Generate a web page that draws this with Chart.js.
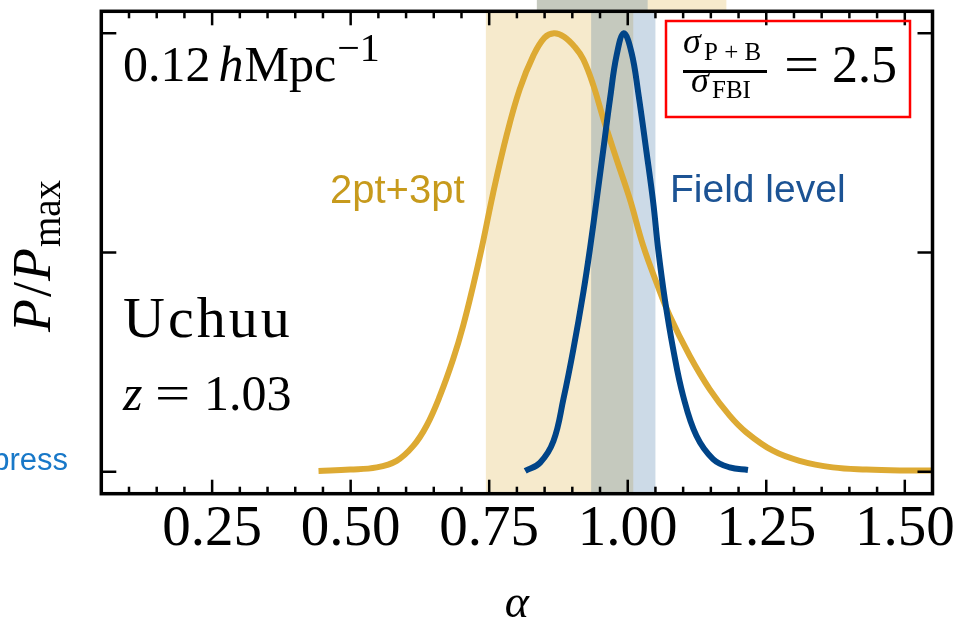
<!DOCTYPE html>
<html>
<head>
<meta charset="utf-8">
<script src="https://cdn.jsdelivr.net/npm/chart.js@4.4.1/dist/chart.umd.min.js"></script>
<style>
  html, body { margin: 0; padding: 0; background: #fff; }
  #wrap { width: 961px; height: 620px; }
</style>
</head>
<body>
<div id="wrap"><canvas id="alphaChart" width="961" height="620"></canvas></div>
<script>
// marginal posteriors of alpha, normalised to their peak
const alpha23 = [0.442, 0.499, 0.547, 0.583, 0.613, 0.637, 0.661, 0.685, 0.703, 0.721,
  0.736, 0.757, 0.782, 0.805, 0.830, 0.850, 0.867, 0.885, 0.905, 0.920, 0.938, 0.956,
  0.980, 1.004, 1.028, 1.052, 1.076, 1.112, 1.148, 1.184, 1.214, 1.262, 1.310, 1.370,
  1.431, 1.491, 1.550];
const post23 = [0.002, 0.005, 0.010, 0.025, 0.059, 0.105, 0.173, 0.257, 0.333, 0.424,
  0.507, 0.635, 0.770, 0.872, 0.950, 0.990, 1.000, 0.992, 0.968, 0.940, 0.881, 0.805,
  0.712, 0.621, 0.515, 0.431, 0.355, 0.264, 0.188, 0.128, 0.090, 0.048, 0.025, 0.010,
  0.005, 0.003, 0.003];

const alphaFBI = [0.815, 0.842, 0.866, 0.884, 0.902, 0.920, 0.932, 0.944, 0.956, 0.968,
  0.980, 0.993, 1.007, 1.019, 1.034, 1.046, 1.055, 1.067, 1.082, 1.100, 1.124, 1.154,
  1.184, 1.217];
const postFBI = [0.002, 0.021, 0.070, 0.166, 0.280, 0.410, 0.510, 0.621, 0.735, 0.850,
  0.950, 1.000, 0.955, 0.864, 0.728, 0.614, 0.507, 0.393, 0.280, 0.173, 0.082, 0.029,
  0.010, 0.004];

// 68% intervals
const band23 = [0.744, 1.010];
const bandFBI = [0.934, 1.050];
// bands of the panel above; only their lower edge shows
const upperBand23 = [0.836, 1.178];
const upperBandFBI = [0.836, 1.036];

const xTicks = [0.25, 0.50, 0.75, 1.00, 1.25, 1.50];
const yTicks = [0, 0.5, 1];
const xMinorStep = 0.05;

const GOLD = '#DDAA33';
const NAVY = '#004488';
const SERIF = "'Liberation Serif', 'Times New Roman', serif";
const SANS = "'Liberation Sans', Arial, sans-serif";

function put(ctx, s, x, y, font, color) {
  ctx.font = font;
  ctx.fillStyle = color || '#000';
  ctx.fillText(s, x, y);
  return x + ctx.measureText(s).width;
}

const bands = {
  id: 'bands',
  beforeDatasetsDraw(chart) {
    const { ctx, chartArea: a, scales: { x } } = chart;
    const fill = (r, top, bottom, color) => {
      const x0 = x.getPixelForValue(r[0]);
      const x1 = x.getPixelForValue(r[1]);
      ctx.fillStyle = color;
      ctx.fillRect(x0, top, x1 - x0, bottom - top);
    };
    ctx.save();
    fill(band23, a.top, a.bottom, 'rgba(221,170,51,0.25)');
    fill(bandFBI, a.top, a.bottom, 'rgba(0,68,136,0.2)');
    fill(upperBand23, 0, a.top, 'rgba(221,170,51,0.25)');
    fill(upperBandFBI, 0, a.top, 'rgba(0,68,136,0.2)');
    ctx.restore();
  }
};

const frame = {
  id: 'frame',
  afterDraw(chart) {
    const { ctx, chartArea: a, scales: { x, y } } = chart;
    ctx.save();
    ctx.strokeStyle = '#000';
    const seg = (x0, y0, x1, y1) => {
      ctx.beginPath(); ctx.moveTo(x0, y0); ctx.lineTo(x1, y1); ctx.stroke();
    };

    // inward ticks on all four sides
    ctx.lineWidth = 2.5;
    const xt = (v, len) => {
      const p = x.getPixelForValue(v);
      seg(p, a.bottom, p, a.bottom - len);
      seg(p, a.top, p, a.top + len);
    };
    for (let v = x.min + xMinorStep; v < x.max - 1e-6; v += xMinorStep) {
      const r = Math.round(v * 100) / 100;
      if (!xTicks.includes(r)) xt(r, 7);
    }
    xTicks.forEach(v => xt(v, 14));
    yTicks.forEach(v => {
      const p = y.getPixelForValue(v);
      seg(a.left, p, a.left + 15, p);
      seg(a.right, p, a.right - 15, p);
    });

    ctx.lineWidth = 3.5;
    ctx.strokeRect(a.left, a.top, a.right - a.left, a.bottom - a.top);

    ctx.textBaseline = 'alphabetic';
    ctx.textAlign = 'left';

    // scale and sample
    let cx = put(ctx, '0.12', 123, 81, '50px ' + SERIF);
    cx = put(ctx, 'h', cx + 8, 81, 'italic 50px ' + SERIF);
    cx = put(ctx, 'Mpc', cx + 1, 81, '50px ' + SERIF);
    put(ctx, '\u22121', cx + 1, 61, '40px ' + SERIF);

    ctx.letterSpacing = '3px';
    put(ctx, 'Uchuu', 123, 337, '58px ' + SERIF);
    ctx.letterSpacing = '0px';
    put(ctx, 'z', 123, 410, 'italic 50px ' + SERIF);
    ctx.save();
    ctx.translate(155, 0);
    ctx.scale(1.25, 1);
    put(ctx, '=', 0, 410, '50px ' + SERIF);
    ctx.restore();
    put(ctx, '1.03', 204, 410, '50px ' + SERIF);

    // series labels
    put(ctx, '2pt+3pt', 330, 203, '40px ' + SANS, '#c79a1c');
    put(ctx, 'Field level', 670, 202, '39px ' + SANS, '#1c5394');
    ctx.textAlign = 'right';
    put(ctx, 'press', 68, 470, '31px ' + SANS, '#1878c8');
    ctx.textAlign = 'left';

    // ratio of constraints, boxed
    ctx.strokeStyle = '#ff0000';
    ctx.lineWidth = 2.5;
    ctx.strokeRect(666, 21, 244, 96);
    put(ctx, '\u03c3', 683, 53, 'italic 36px ' + SERIF);
    put(ctx, 'P + B', 704, 60, '25px ' + SERIF);
    ctx.fillStyle = '#000';
    ctx.fillRect(683, 70, 84, 3);
    put(ctx, '\u03c3', 691, 92, 'italic 36px ' + SERIF);
    put(ctx, 'FBI', 712, 98, '25px ' + SERIF);
    ctx.save();
    ctx.translate(784, 0);
    ctx.scale(1.2, 1);
    put(ctx, '=', 0, 82, '52px ' + SERIF);
    ctx.restore();
    put(ctx, '2.5', 832, 82, '52px ' + SERIF);

    // axis titles
    ctx.textAlign = 'center';
    put(ctx, '\u03b1', (a.left + a.right) / 2, 617, 'italic 46px ' + SERIF);
    ctx.textAlign = 'left';
    ctx.translate(50, 332);
    ctx.rotate(-Math.PI / 2);
    let u = put(ctx, 'P', 0, 0, 'italic 54px ' + SERIF);
    u = put(ctx, '/', u + 2, 0, '54px ' + SERIF);
    u = put(ctx, 'P', u + 1, 0, 'italic 54px ' + SERIF);
    put(ctx, 'max', u + 1, 10, '39px ' + SERIF);
    ctx.restore();
  }
};

const toPoints = (xs, ys) => xs.map((v, i) => ({ x: v, y: ys[i] }));

new Chart(document.getElementById('alphaChart'), {
  type: 'line',
  data: {
    datasets: [
      {
        label: '2pt+3pt',
        data: toPoints(alpha23, post23),
        borderColor: GOLD,
        borderWidth: 6,
        pointRadius: 0,
        tension: 0.4,
        order: 2
      },
      {
        label: 'Field level',
        data: toPoints(alphaFBI, postFBI),
        borderColor: NAVY,
        borderWidth: 6,
        pointRadius: 0,
        tension: 0.4,
        order: 1
      }
    ]
  },
  options: {
    responsive: false,
    animation: false,
    layout: { padding: { left: 101.3, right: 28.5, top: 11.3, bottom: 0 } },
    plugins: { legend: { display: false }, tooltip: { enabled: false } },
    scales: {
      x: {
        type: 'linear',
        min: 0.05,
        max: 1.55,
        grid: { display: false, drawTicks: false },
        border: { display: false },
        afterBuildTicks: s => { s.ticks = xTicks.map(v => ({ value: v })); },
        afterFit: s => { s.height = 620 - 493.7; },
        ticks: {
          autoSkip: false,
          maxRotation: 0,
          padding: 2,
          color: '#000',
          font: { family: SERIF, size: 57 },
          callback: v => v.toFixed(2)
        }
      },
      y: {
        type: 'linear',
        min: -0.05,
        max: 1.05,
        grid: { display: false, drawTicks: false },
        border: { display: false },
        ticks: { display: false },
        afterBuildTicks: s => { s.ticks = yTicks.map(v => ({ value: v })); },
        afterFit: s => { s.width = 0; }
      }
    }
  },
  plugins: [bands, frame]
});
</script>
</body>
</html>
